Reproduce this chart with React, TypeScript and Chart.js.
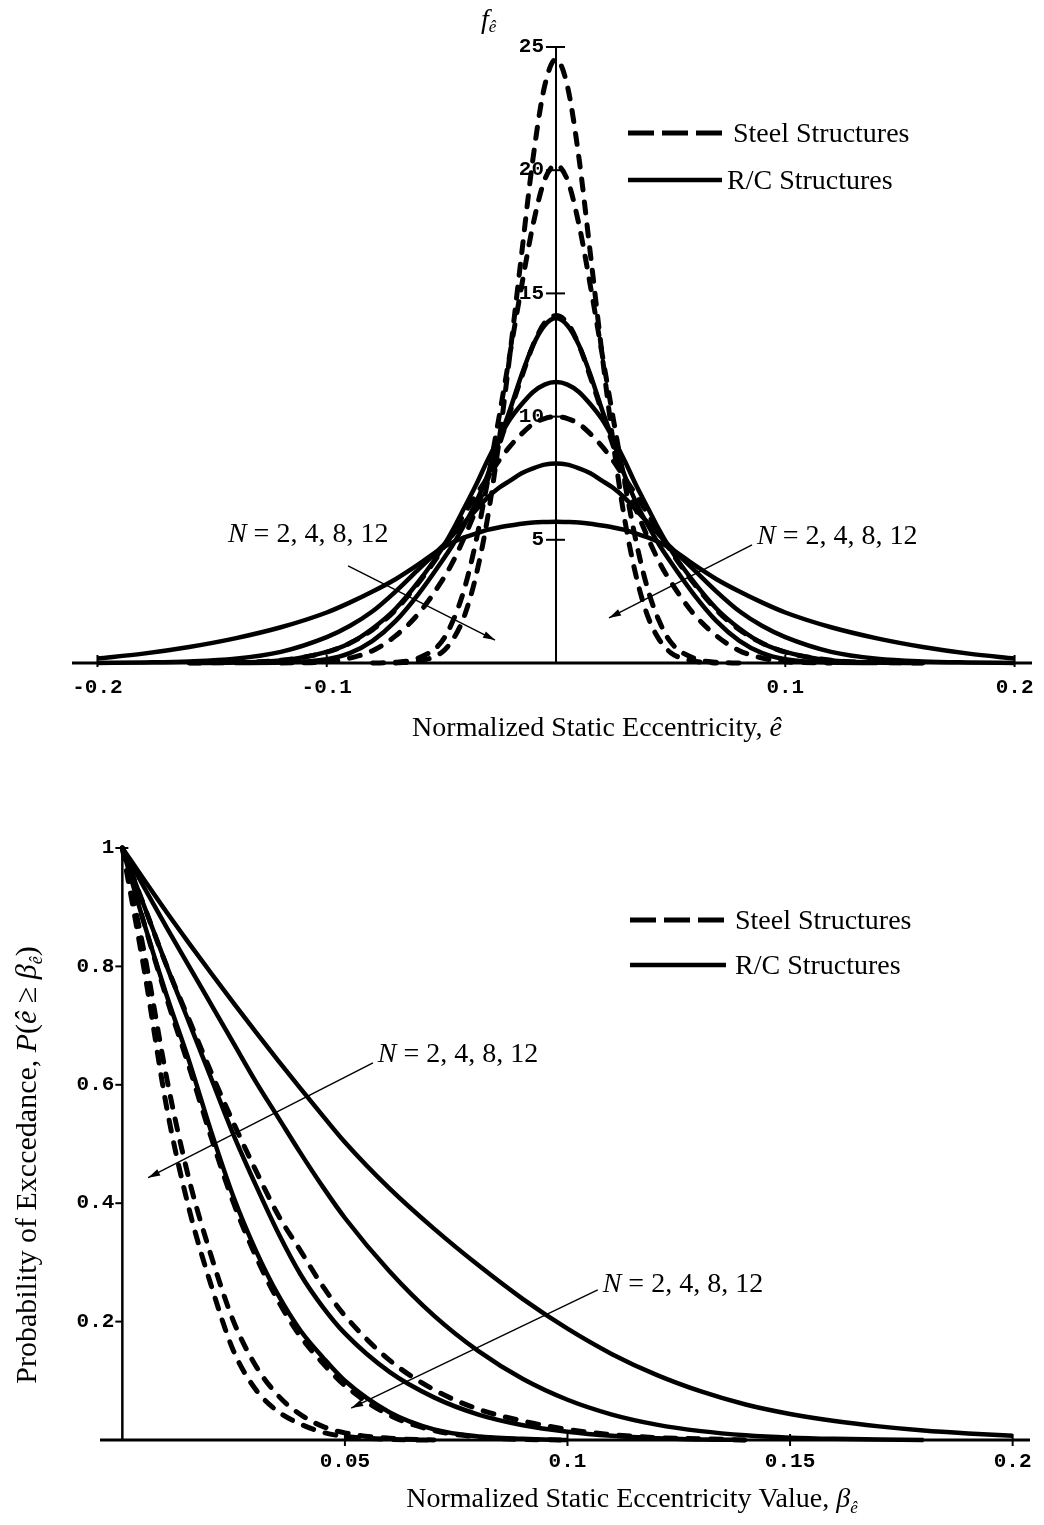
import React, { useEffect, useRef } from "react";
import { Chart, registerables } from "chart.js";

Chart.register(...registerables);

const SERIF = '"Liberation Serif", "Times New Roman", serif';
const MONO = '"Liberation Mono", "Courier New", monospace';
const TICK_FONT = `bold 21px ${MONO}`;

// ---------------- Top chart: density of normalized static eccentricity ----------------
const eccentricity = [
  -0.2, -0.18, -0.16, -0.14, -0.12, -0.1, -0.09, -0.08, -0.07, -0.06, -0.05, -0.045, -0.04, -0.035,
  -0.03, -0.025, -0.02, -0.015, -0.01, -0.005, 0, 0.005, 0.01, 0.015, 0.02, 0.025, 0.03, 0.035, 0.04,
  0.045, 0.05, 0.06, 0.07, 0.08, 0.09, 0.1, 0.12, 0.14, 0.16, 0.18, 0.2,
];

// Steel structures (dashed)
const steelDensityN12 = [
  null, null, null, null, null, null, null, null, 0, 0.08, 0.42, 0.95, 1.9, 3.5, 5.8, 8.9, 12.6, 16.6, 20.5, 23.4,
  24.5,
  23.4, 20.5, 16.6, 12.6, 8.9, 5.8, 3.5, 1.9, 0.95, 0.42, 0.08, 0, null, null, null, null, null, null, null, null,
];
const steelDensityN8 = [
  null, null, null, null, null, null, null, 0, 0.03, 0.2, 0.85, 1.7, 3.0, 4.9, 7.3, 9.9, 12.6, 15.3, 17.8, 19.6,
  20.2,
  19.6, 17.8, 15.3, 12.6, 9.9, 7.3, 4.9, 3.0, 1.7, 0.85, 0.2, 0.03, 0, null, null, null, null, null, null, null,
];
const steelDensityN4 = [
  null, null, null, null, 0, 0.05, 0.2, 0.5, 1.1, 2.0, 3.3, 4.1, 5.1, 6.2, 7.4, 8.8, 10.2, 11.6, 12.9, 13.8,
  14.1,
  13.8, 12.9, 11.6, 10.2, 8.8, 7.4, 6.2, 5.1, 4.1, 3.3, 2.0, 1.1, 0.5, 0.2, 0.05, 0, null, null, null, null,
];
const steelDensityN2 = [
  null, null, 0, 0.02, 0.11, 0.44, 0.8, 1.35, 2.15, 3.25, 4.55, 5.3, 6.05, 6.8, 7.5, 8.2, 8.8, 9.3, 9.7, 9.92,
  10.0,
  9.92, 9.7, 9.3, 8.8, 8.2, 7.5, 6.8, 6.05, 5.3, 4.55, 3.25, 2.15, 1.35, 0.8, 0.44, 0.11, 0.02, 0, null, null,
];

// R/C structures (solid)
const rcDensityN12 = [
  null, null, null, 0, 0.02, 0.15, 0.4, 0.9, 1.7, 2.8, 4.1, 4.8, 5.6, 6.5, 7.6, 9.0, 10.3, 11.7, 12.9, 13.7,
  14.0,
  13.7, 12.9, 11.7, 10.3, 9.0, 7.6, 6.5, 5.6, 4.8, 4.1, 2.8, 1.7, 0.9, 0.4, 0.15, 0.02, 0, null, null, null,
];
const rcDensityN8 = [
  null, null, 0, 0.02, 0.1, 0.45, 0.8, 1.4, 2.2, 3.3, 4.6, 5.4, 6.3, 7.2, 8.2, 9.1, 9.9, 10.5, 11.0, 11.3,
  11.4,
  11.3, 11.0, 10.5, 9.9, 9.1, 8.2, 7.2, 6.3, 5.4, 4.6, 3.3, 2.2, 1.4, 0.8, 0.45, 0.1, 0.02, 0, null, null,
];
const rcDensityN4 = [
  0, 0.02, 0.06, 0.17, 0.45, 1.05, 1.5, 2.1, 2.9, 3.8, 4.7, 5.2, 5.7, 6.2, 6.7, 7.1, 7.4, 7.7, 7.9, 8.05,
  8.1,
  8.05, 7.9, 7.7, 7.4, 7.1, 6.7, 6.2, 5.7, 5.2, 4.7, 3.8, 2.9, 2.1, 1.5, 1.05, 0.45, 0.17, 0.06, 0.02, 0,
];
const rcDensityN2 = [
  0.18, 0.38, 0.65, 1.0, 1.45, 2.05, 2.45, 2.9, 3.4, 4.0, 4.65, 4.9, 5.1, 5.25, 5.4, 5.5, 5.58, 5.65, 5.7, 5.72,
  5.73,
  5.72, 5.7, 5.65, 5.58, 5.5, 5.4, 5.25, 5.1, 4.9, 4.65, 4.0, 3.4, 2.9, 2.45, 2.05, 1.45, 1.0, 0.65, 0.38, 0.18,
];

const topTicksX = [-0.2, -0.1, 0.1, 0.2];
const topTickLabelsX = ["-0.2", "-0.1", "0.1", "0.2"];
const topTicksY = [5, 10, 15, 20, 25];
const topTickLabelsY = ["5", "10", "15", "20", "25"];

// ---------------- Bottom chart: probability of exceedance ----------------
const betaValues = [
  0, 0.005, 0.01, 0.015, 0.02, 0.025, 0.03, 0.035, 0.04, 0.045, 0.05, 0.06, 0.07, 0.08, 0.09, 0.1, 0.11, 0.12,
  0.13, 0.14, 0.15, 0.16, 0.17, 0.18, 0.19, 0.2,
];

const steelExceedN12 = [
  1, 0.79, 0.56, 0.39, 0.26, 0.15, 0.085, 0.048, 0.027, 0.013, 0.006, 0.001, 0,
  null, null, null, null, null, null, null, null, null, null, null, null, null,
];
const steelExceedN8 = [
  1, 0.82, 0.61, 0.44, 0.31, 0.2, 0.125, 0.075, 0.043, 0.023, 0.012, 0.003, 0,
  null, null, null, null, null, null, null, null, null, null, null, null, null,
];
const steelExceedN4 = [
  1, 0.87, 0.745, 0.63, 0.51, 0.4, 0.31, 0.235, 0.175, 0.13, 0.092, 0.042, 0.016, 0.005, 0.001, 0,
  null, null, null, null, null, null, null, null, null, null,
];
const steelExceedN2 = [
  1, 0.9, 0.8, 0.71, 0.62, 0.535, 0.455, 0.38, 0.32, 0.26, 0.21, 0.135, 0.085, 0.052, 0.032, 0.018, 0.009,
  0.004, 0.002, 0, null, null, null, null, null, null,
];

const rcExceedN12 = [
  1, 0.87, 0.75, 0.64, 0.52, 0.41, 0.32, 0.245, 0.185, 0.14, 0.1, 0.047, 0.018, 0.006, 0.002, 0,
  null, null, null, null, null, null, null, null, null, null,
];
const rcExceedN8 = [
  1, 0.9, 0.8, 0.705, 0.61, 0.515, 0.43, 0.35, 0.28, 0.225, 0.18, 0.115, 0.072, 0.043, 0.025, 0.014, 0.007,
  0.003, 0.001, 0, null, null, null, null, null, null,
];
const rcExceedN4 = [
  1, 0.932, 0.865, 0.8, 0.735, 0.67, 0.605, 0.545, 0.485, 0.428, 0.375, 0.285, 0.21, 0.15, 0.103, 0.068,
  0.043, 0.026, 0.015, 0.008, 0.004, 0.002, 0.001, 0, null, null,
];
const rcExceedN2 = [
  1, 0.945, 0.891, 0.839, 0.788, 0.738, 0.689, 0.641, 0.594, 0.548, 0.503, 0.425, 0.357, 0.295, 0.238, 0.188,
  0.145, 0.11, 0.082, 0.06, 0.044, 0.032, 0.023, 0.016, 0.011, 0.007,
];

const botTicksX = [0.05, 0.1, 0.15, 0.2];
const botTickLabelsX = ["0.05", "0.1", "0.15", "0.2"];
const botTicksY = [0.2, 0.4, 0.6, 0.8, 1];
const botTickLabelsY = ["0.2", "0.4", "0.6", "0.8", "1"];

const legendLabels = ["Steel Structures", "R/C Structures"];
const annotationText = " = 2, 4, 8, 12";

// ---------------- helpers ----------------
type Run = { t: string; font: string; dy?: number };

function runsWidth(ctx: CanvasRenderingContext2D, runs: Run[]) {
  let w = 0;
  for (const r of runs) {
    ctx.font = r.font;
    w += ctx.measureText(r.t).width;
  }
  return w;
}

function drawRuns(ctx: CanvasRenderingContext2D, runs: Run[], x: number, y: number, align: "left" | "center") {
  let cx = align === "center" ? x - runsWidth(ctx, runs) / 2 : x;
  ctx.textAlign = "left";
  ctx.textBaseline = "alphabetic";
  for (const r of runs) {
    ctx.font = r.font;
    ctx.fillText(r.t, cx, y + (r.dy || 0));
    cx += ctx.measureText(r.t).width;
  }
}

function drawArrow(ctx: CanvasRenderingContext2D, x1: number, y1: number, x2: number, y2: number) {
  ctx.save();
  ctx.lineWidth = 1.4;
  ctx.setLineDash([]);
  ctx.beginPath();
  ctx.moveTo(x1, y1);
  ctx.lineTo(x2, y2);
  ctx.stroke();
  const a = Math.atan2(y2 - y1, x2 - x1);
  const len = 12;
  const hw = 3.5;
  ctx.beginPath();
  ctx.moveTo(x2, y2);
  ctx.lineTo(x2 - len * Math.cos(a) + hw * Math.sin(a), y2 - len * Math.sin(a) - hw * Math.cos(a));
  ctx.lineTo(x2 - len * Math.cos(a) - hw * Math.sin(a), y2 - len * Math.sin(a) + hw * Math.cos(a));
  ctx.closePath();
  ctx.fill();
  ctx.restore();
}

function drawLegend(ctx: CanvasRenderingContext2D, x1: number, x2: number, yDash: number, ySolid: number, tx1: number, tx2: number) {
  ctx.save();
  ctx.lineWidth = 5;
  ctx.setLineDash([26, 8]);
  ctx.beginPath();
  ctx.moveTo(x1, yDash);
  ctx.lineTo(x2, yDash);
  ctx.stroke();
  ctx.setLineDash([]);
  ctx.lineWidth = 4.5;
  ctx.beginPath();
  ctx.moveTo(x1, ySolid);
  ctx.lineTo(x2, ySolid);
  ctx.stroke();
  drawRuns(ctx, [{ t: legendLabels[0], font: `28px ${SERIF}` }], tx1, yDash + 9, "left");
  drawRuns(ctx, [{ t: legendLabels[1], font: `28px ${SERIF}` }], tx2, ySolid + 9, "left");
  ctx.restore();
}

const nRuns = (): Run[] => [
  { t: "N", font: `italic 28px ${SERIF}` },
  { t: annotationText, font: `28px ${SERIF}` },
];

function series(xs: number[], ys: (number | null)[], dashed: boolean) {
  return {
    data: xs.map((x, i) => ({ x, y: ys[i] })),
    borderColor: "#000",
    backgroundColor: "#000",
    borderWidth: dashed ? 5 : 4.5,
    borderDash: dashed ? [11, 12] : [],
    borderCapStyle: dashed ? "round" : "butt",
    pointRadius: 0,
    pointHoverRadius: 0,
    cubicInterpolationMode: "monotone",
    fill: false,
    spanGaps: false,
    clip: false,
  };
}

// ---------------- top chart config ----------------
const topDecor = {
  id: "topDecor",
  beforeDatasetsDraw(chart: any) {
    const ctx: CanvasRenderingContext2D = chart.ctx;
    const xs = chart.scales.x;
    const ys = chart.scales.y;
    const ca = chart.chartArea;
    const x0 = xs.getPixelForValue(0);
    const y0 = ys.getPixelForValue(0);
    ctx.save();
    ctx.strokeStyle = "#000";
    ctx.fillStyle = "#000";
    ctx.lineWidth = 3;
    ctx.beginPath();
    ctx.moveTo(ca.left, y0);
    ctx.lineTo(ca.right, y0);
    ctx.stroke();
    ctx.lineWidth = 2;
    ctx.beginPath();
    ctx.moveTo(x0, y0);
    ctx.lineTo(x0, ys.getPixelForValue(25));
    ctx.stroke();
    ctx.font = TICK_FONT;
    topTicksX.forEach((v, i) => {
      const px = xs.getPixelForValue(v);
      ctx.beginPath();
      ctx.moveTo(px, y0 - 8);
      ctx.lineTo(px, y0 + 4);
      ctx.stroke();
      ctx.textAlign = "center";
      ctx.textBaseline = "middle";
      ctx.fillText(topTickLabelsX[i], px, y0 + 25);
    });
    topTicksY.forEach((v, i) => {
      const py = ys.getPixelForValue(v);
      ctx.beginPath();
      ctx.moveTo(x0 - 10, py);
      ctx.lineTo(x0 + 9, py);
      ctx.stroke();
      ctx.textAlign = "right";
      ctx.textBaseline = "middle";
      ctx.fillText(topTickLabelsY[i], x0 - 12, py);
    });
    ctx.restore();
  },
  afterDatasetsDraw(chart: any) {
    const ctx: CanvasRenderingContext2D = chart.ctx;
    const xs = chart.scales.x;
    const ys = chart.scales.y;
    const X = (v: number) => xs.getPixelForValue(v);
    const Y = (v: number) => ys.getPixelForValue(v);
    ctx.save();
    ctx.fillStyle = "#000";
    ctx.strokeStyle = "#000";
    drawRuns(ctx, [
      { t: "f", font: `italic 28px ${SERIF}` },
      { t: "ê", font: `italic 17px ${SERIF}`, dy: 4 },
    ], X(0) - 75, 28, "left");
    drawRuns(ctx, [
      { t: "Normalized Static Eccentricity, ", font: `28px ${SERIF}` },
      { t: "ê", font: `italic 28px ${SERIF}` },
    ], 597, 736, "center");
    drawLegend(ctx, 628, 722, 133, 180, 733, 727);
    drawRuns(ctx, nRuns(), X(-0.1431), Y(4.91), "left");
    drawArrow(ctx, X(-0.0907), Y(3.94), X(-0.0266), Y(0.93));
    drawRuns(ctx, nRuns(), X(0.0877), Y(4.83), "left");
    drawArrow(ctx, X(0.0855), Y(4.79), X(0.0231), Y(1.83));
    ctx.restore();
  },
};

function topConfig(): any {
  return {
    type: "line",
    data: {
      datasets: [
        series(eccentricity, rcDensityN2, false),
        series(eccentricity, rcDensityN4, false),
        series(eccentricity, rcDensityN8, false),
        series(eccentricity, rcDensityN12, false),
        series(eccentricity, steelDensityN2, true),
        series(eccentricity, steelDensityN4, true),
        series(eccentricity, steelDensityN8, true),
        series(eccentricity, steelDensityN12, true),
      ],
    },
    options: {
      animation: false,
      responsive: false,
      maintainAspectRatio: false,
      events: [],
      layout: { padding: { left: 72, right: 12, top: 47, bottom: 107 } },
      scales: {
        x: { type: "linear", min: -0.2111, max: 0.2076, display: false },
        y: { type: "linear", min: 0, max: 25, display: false },
      },
      plugins: { legend: { display: false }, tooltip: { enabled: false }, title: { display: false } },
    },
    plugins: [topDecor],
  };
}

// ---------------- bottom chart config ----------------
const botDecor = {
  id: "botDecor",
  beforeDatasetsDraw(chart: any) {
    const ctx: CanvasRenderingContext2D = chart.ctx;
    const xs = chart.scales.x;
    const ys = chart.scales.y;
    const ca = chart.chartArea;
    const x0 = xs.getPixelForValue(0);
    const y0 = ys.getPixelForValue(0);
    ctx.save();
    ctx.strokeStyle = "#000";
    ctx.fillStyle = "#000";
    ctx.lineWidth = 3;
    ctx.beginPath();
    ctx.moveTo(ca.left, y0);
    ctx.lineTo(ca.right, y0);
    ctx.stroke();
    ctx.lineWidth = 2.5;
    ctx.beginPath();
    ctx.moveTo(x0, y0);
    ctx.lineTo(x0, ys.getPixelForValue(1));
    ctx.stroke();
    ctx.lineWidth = 2;
    ctx.font = TICK_FONT;
    botTicksX.forEach((v, i) => {
      const px = xs.getPixelForValue(v);
      ctx.beginPath();
      ctx.moveTo(px, y0 - 6);
      ctx.lineTo(px, y0 + 6);
      ctx.stroke();
      ctx.textAlign = "center";
      ctx.textBaseline = "middle";
      ctx.fillText(botTickLabelsX[i], px, y0 + 22);
    });
    botTicksY.forEach((v, i) => {
      const py = ys.getPixelForValue(v);
      ctx.beginPath();
      ctx.moveTo(x0 - 7, py);
      ctx.lineTo(x0 + (v === 1 ? 6 : 0), py);
      ctx.stroke();
      ctx.textAlign = "right";
      ctx.textBaseline = "middle";
      ctx.fillText(botTickLabelsY[i], x0 - 8, py);
    });
    ctx.restore();
  },
  afterDatasetsDraw(chart: any) {
    const ctx: CanvasRenderingContext2D = chart.ctx;
    const xs = chart.scales.x;
    const ys = chart.scales.y;
    const X = (v: number) => xs.getPixelForValue(v);
    const Y = (v: number) => ys.getPixelForValue(v);
    ctx.save();
    ctx.fillStyle = "#000";
    ctx.strokeStyle = "#000";
    drawRuns(ctx, [
      { t: "Normalized Static Eccentricity Value, ", font: `28px ${SERIF}` },
      { t: "β", font: `italic 28px ${SERIF}` },
      { t: "ê", font: `italic 17px ${SERIF}`, dy: 6 },
    ], 632, 737, "center");
    ctx.save();
    ctx.translate(26, 395);
    ctx.rotate(-Math.PI / 2);
    drawRuns(ctx, [
      { t: "Probability of Exccedance, ", font: `30px ${SERIF}` },
      { t: "P", font: `italic 30px ${SERIF}` },
      { t: "(", font: `30px ${SERIF}` },
      { t: "ê", font: `italic 30px ${SERIF}` },
      { t: " ≥ ", font: `30px ${SERIF}` },
      { t: "β", font: `italic 30px ${SERIF}` },
      { t: "ê", font: `italic 18px ${SERIF}`, dy: 6 },
      { t: ")", font: `30px ${SERIF}` },
    ], 0, 10, "center");
    ctx.restore();
    drawLegend(ctx, 630, 726, 150, 195, 735, 735);
    drawRuns(ctx, nRuns(), X(0.0574), Y(0.639), "left");
    drawArrow(ctx, X(0.0563), Y(0.637), X(0.0058), Y(0.443));
    drawRuns(ctx, nRuns(), X(0.1079), Y(0.25), "left");
    drawArrow(ctx, X(0.1068), Y(0.2535), X(0.0514), Y(0.054));
    ctx.restore();
  },
};

function bottomConfig(): any {
  return {
    type: "line",
    data: {
      datasets: [
        series(betaValues, rcExceedN2, false),
        series(betaValues, rcExceedN4, false),
        series(betaValues, rcExceedN8, false),
        series(betaValues, rcExceedN12, false),
        series(betaValues, steelExceedN2, true),
        series(betaValues, steelExceedN4, true),
        series(betaValues, steelExceedN8, true),
        series(betaValues, steelExceedN12, true),
      ],
    },
    options: {
      animation: false,
      responsive: false,
      maintainAspectRatio: false,
      events: [],
      layout: { padding: { left: 100, right: 14, top: 78, bottom: 85 } },
      scales: {
        x: { type: "linear", min: -0.00502, max: 0.2039, display: false },
        y: { type: "linear", min: 0, max: 1, display: false },
      },
      plugins: { legend: { display: false }, tooltip: { enabled: false }, title: { display: false } },
    },
    plugins: [botDecor],
  };
}

function ChartCanvas({ makeConfig, top, height }: { makeConfig: () => any; top: number; height: number }) {
  const ref = useRef<HTMLCanvasElement>(null);
  useEffect(() => {
    const chart = new Chart(ref.current as HTMLCanvasElement, makeConfig());
    return () => chart.destroy();
  }, []);
  return (
    <canvas
      ref={ref}
      width={1044}
      height={height}
      style={{ position: "absolute", left: 0, top, width: 1044, height, display: "block" }}
    />
  );
}

export default function App() {
  return (
    <div style={{ position: "absolute", left: 0, top: 0, width: 1044, height: 1525, background: "#fff", overflow: "hidden" }}>
      <ChartCanvas makeConfig={topConfig} top={0} height={770} />
      <ChartCanvas makeConfig={bottomConfig} top={770} height={755} />
    </div>
  );
}
